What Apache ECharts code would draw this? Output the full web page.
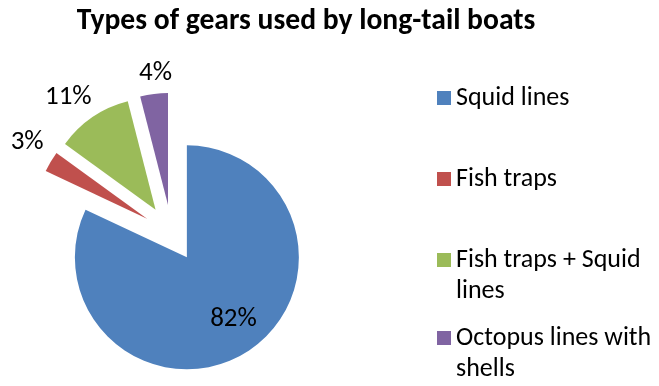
<!DOCTYPE html>
<html>
<head>
<meta charset="utf-8">
<script src="https://cdn.jsdelivr.net/npm/echarts@6/dist/echarts.min.js"></script>
<style>
html,body{margin:0;padding:0;background:#fff;}
#chart{width:659px;height:386px;}
</style>
</head>
<body>
<div id="chart"></div>
<script>
var categories = ['Squid lines', 'Fish traps', 'Fish traps + Squid lines', 'Octopus lines with shells'];
var legendLabels = ['Squid lines', 'Fish traps', 'Fish traps + Squid\nlines', 'Octopus lines with\nshells'];
var values = [82, 3, 11, 4];
var colors = ['#4F81BD', '#C0504D', '#9BBB59', '#8064A2'];
var titleText = 'Types of gears used by long-tail boats';

var FONT = 'Carlito, Lato, sans-serif';
var chart = echarts.init(document.getElementById('chart'), null, {renderer: 'canvas'});

var pieData = categories.map(function (c, i) {
  return {name: c, value: values[i], selected: true, itemStyle: {color: colors[i]}};
});

var labelShift = [[15, 12], [-7, -20], [-1, -20], [18, -21]];
var legendCenters = [98, 179, 260, 338];
var LH = 31;

var legends = categories.map(function (c, i) {
  var twoLine = legendLabels[i].indexOf('\n') >= 0;
  return {
    show: true,
    orient: 'vertical',
    left: 437,
    top: legendCenters[i] - (twoLine ? 1.5 * LH : 0.5 * LH),
    padding: 0,
    itemWidth: 14,
    itemHeight: 14,
    icon: 'rect',
    selectedMode: false,
    data: [{name: c, icon: 'rect'}],
    formatter: function () { return twoLine ? '\u00a0\n' + legendLabels[i] : legendLabels[i]; },
    textStyle: {fontFamily: FONT, fontSize: 26, color: '#000', lineHeight: LH}
  };
});

chart.setOption({
  animation: false,
  title: {
    text: titleText, left: 301, top: 2, textAlign: 'center',
    textStyle: {fontFamily: FONT, fontSize: 29.6, fontWeight: 'bold', color: '#000'}
  },
  legend: legends,
  series: [{
    type: 'pie',
    center: [171.6, 233.3],
    radius: [0, 112],
    startAngle: 90,
    clockwise: true,
    selectedMode: 'multiple',
    selectedOffset: 28.5,
    avoidLabelOverlap: false,
    percentPrecision: 0,
    emphasis: {disabled: true, scale: false},
    select: {itemStyle: {borderWidth: 0}},
    itemStyle: {borderWidth: 0},
    label: {
      show: true, position: 'outside', formatter: '{d}%',
      fontFamily: FONT, fontSize: 27, color: '#000',
      distanceToLabelLine: 0
    },
    labelLine: {show: false, length: 0, length2: 0},
    labelLayout: function (p) {
      var s = labelShift[p.dataIndex];
      return {dx: s[0], dy: s[1]};
    },
    data: pieData.map(function (d, i) {
      if (i === 0) { d.label = {position: 'inside'}; }
      return d;
    })
  }]
});
</script>
</body>
</html>
